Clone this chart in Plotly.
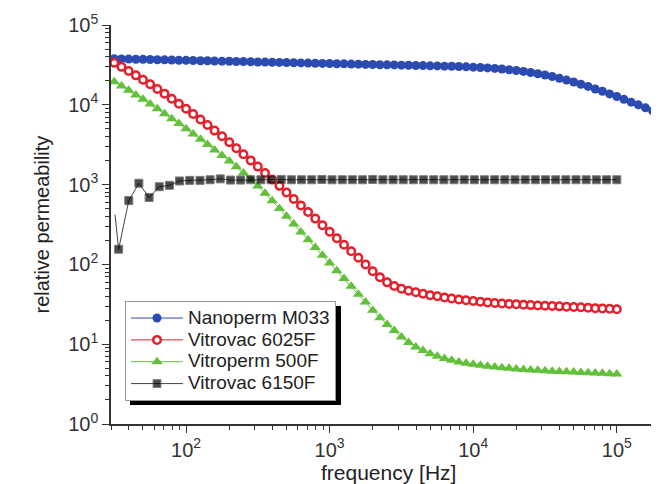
import plotly.graph_objects as go

# ---------------- data ----------------
freq = [31.6, 35.5, 39.8, 44.7, 50.1, 56.2, 63.1, 70.8, 79.4, 89.1,
        100, 112, 126, 141, 158, 178, 200, 224, 251, 282,
        316, 355, 398, 447, 501, 562, 631, 708, 794, 891,
        1000, 1122, 1259, 1413, 1585, 1778, 1995, 2239, 2512, 2818,
        3162, 3548, 3981, 4467, 5012, 5623, 6310, 7079, 7943, 8913,
        10000, 11220, 12590, 14130, 15850, 17780, 19950, 22390, 25120, 28180,
        31620, 35480, 39810, 44670, 50120, 56230, 63100, 70790, 79430, 89130,
        100000, 112200, 125900, 141300, 158500, 177800, 199500]

nanoperm = [37800, 37600, 37400, 37200, 37100, 36900, 36700, 36600, 36400, 36200,
            36100, 35900, 35700, 35600, 35400, 35200, 35100, 34900, 34800, 34600,
            34400, 34300, 34100, 34000, 33800, 33700, 33500, 33300, 33200, 33000,
            32900, 32700, 32600, 32400, 32300, 32100, 32000, 31800, 31700, 31600,
            31400, 31300, 31100, 31000, 30800, 30700, 30500, 30400,
            30200, 29900, 29600, 29300, 29000, 28600, 28100, 27500, 26900, 26200,
            25400, 24500, 23600, 22600, 21500, 20400, 19300, 18100, 17000, 15800,
            14800, 13700, 12700, 11700, 10800, 9980, 9160, 8390, 7670]

vitrovac_6025f = [33700, 29900, 26500, 23400, 20600, 18100, 15800, 13800, 11900, 10300,
                  8910, 7660, 6550, 5580, 4750, 4030, 3400, 2860, 2400, 2010,
                  1680, 1400, 1160, 964, 798, 661, 547, 453, 375, 310,
                  257, 213, 176, 146, 121, 100, 82.2, 69.2, 59.6, 53.7,
                  49.5, 46.8, 44.7, 42.9, 41.2, 39.8, 38.5, 37.3, 36.3, 35.5,
                  34.7, 34.0, 33.4, 32.9, 32.4, 32.0, 31.6, 31.3, 30.9, 30.6,
                  30.3, 30.1, 29.8, 29.5, 29.2, 29.0, 28.6, 28.3, 28.1, 27.8, 27.5]

vitroperm_500f = [19400, 17200, 15200, 13300, 11700, 10200, 8910, 7740, 6710, 5810,
                  5010, 4320, 3710, 3180, 2720, 2320, 1970, 1670, 1400, 1170,
                  959, 780, 627, 501, 400, 320, 255, 204, 163, 130,
                  104, 83.2, 66.4, 53.1, 42.4, 33.7, 26.7, 21.5, 17.6, 14.8,
                  12.3, 10.5, 9.23, 8.32, 7.59, 7.08, 6.64, 6.28, 6.00, 5.78,
                  5.60, 5.43, 5.30, 5.18, 5.07, 4.98, 4.90, 4.82, 4.75, 4.70,
                  4.65, 4.59, 4.55, 4.51, 4.47, 4.43, 4.39, 4.35, 4.31, 4.27, 4.23]

freq_6150f = [32.0, 33.9, 39.9, 46.9, 55.3, 65.1, 76.6, 90.1, 106, 125, 147,
              173, 204, 240, 282, 332, 391, 460, 542, 637, 750,
              883, 1039, 1224, 1440, 1695, 1995, 2349, 2765, 3254, 3831,
              4508, 5307, 6247, 7353, 8655, 10190, 11990, 14110, 16610, 19550,
              23010, 27090, 31890, 37530, 44180, 52000, 61210, 72050, 84810, 100000]
vitrovac_6150f = [420, 155, 630, 1040, 690, 940, 980, 1110, 1130, 1130, 1150,
                  1180, 1140, 1140, 1150, 1150, 1150, 1160, 1150, 1150, 1150,
                  1160, 1150, 1150, 1150, 1150, 1160, 1150, 1150, 1150, 1150,
                  1150, 1150, 1150, 1150, 1150, 1150, 1150, 1150, 1150, 1150,
                  1150, 1150, 1150, 1150, 1150, 1150, 1150, 1150, 1150, 1150]

series_names = ["Nanoperm M033", "Vitrovac 6025F", "Vitroperm 500F", "Vitrovac 6150F"]

x_major = [100, 1000, 10000, 100000]
x_major_text = ["10<sup>2</sup>", "10<sup>3</sup>", "10<sup>4</sup>", "10<sup>5</sup>"]
y_major = [1, 10, 100, 1000, 10000, 100000]
y_major_text = ["10<sup>0</sup>", "10<sup>1</sup>", "10<sup>2</sup>", "10<sup>3</sup>",
                "10<sup>4</sup>", "10<sup>5</sup>"]

# ---------------- figure ----------------
FONT = "Liberation Sans, Arial, Helvetica, sans-serif"
BLUE = "#2c4bb0"
RED = "#e3202b"
GREEN = "#62c03a"
BLACK = "#000000"


def legend_label(name):
    # larger text inside a legend whose row pitch is set by a smaller base font
    return '<span style="font-size:19px">' + name + '</span>'


fig = go.Figure()
fig.add_trace(go.Scatter(
    x=freq, y=nanoperm, name=legend_label(series_names[0]), mode="lines+markers",
    line=dict(color=BLUE, width=1),
    marker=dict(symbol="circle", size=9, color=BLUE)))
fig.add_trace(go.Scatter(
    x=freq[:len(vitrovac_6025f)], y=vitrovac_6025f, name=legend_label(series_names[1]),
    mode="lines+markers",
    line=dict(color=RED, width=1),
    marker=dict(symbol="circle", size=7.5, color="white", line=dict(color=RED, width=2.5))))
fig.add_trace(go.Scatter(
    x=freq[:len(vitroperm_500f)], y=vitroperm_500f, name=legend_label(series_names[2]),
    mode="lines+markers",
    line=dict(color=GREEN, width=1),
    marker=dict(symbol="triangle-up", size=10, color=GREEN)))
sizes_black = [0] + [8] * (len(freq_6150f) - 1)
fig.add_trace(go.Scatter(
    x=freq_6150f, y=vitrovac_6150f, name=legend_label(series_names[3]), mode="lines+markers",
    line=dict(color="#444444", width=1),
    marker=dict(symbol="square", size=sizes_black, color=BLACK)))

minor_x = [m * 10 ** e for e in range(1, 6) for m in range(2, 10) if 30 <= m * 10 ** e <= 200000]
minor_y = [m * 10 ** e for e in range(0, 5) for m in range(2, 10)]

axis_common = dict(
    type="log", showgrid=False, zeroline=False, showline=True,
    linecolor="#333333", linewidth=1.5, ticks="outside", ticklen=7, tickwidth=1.2,
    tickcolor="#333333", tickfont=dict(family=FONT, size=20, color="#333333"),
    tickmode="array", automargin=False, mirror=False)

fig.update_xaxes(**axis_common, range=[1.4771, 5.301], tickvals=x_major, ticktext=x_major_text,
                 minor=dict(tickmode="array", tickvals=minor_x, ticks="outside", ticklen=4,
                            tickcolor="#333333", tickwidth=1, showgrid=False))
fig.update_yaxes(**axis_common, range=[0, 5], tickvals=y_major, ticktext=y_major_text,
                 minor=dict(tickmode="array", tickvals=minor_y, ticks="outside", ticklen=4,
                            tickcolor="#333333", tickwidth=1, showgrid=False))

fig.update_layout(
    width=659, height=484,
    margin=dict(l=103, r=7, t=17, b=68),
    paper_bgcolor="white", plot_bgcolor="white",
    font=dict(family=FONT, size=18, color="#222222"),
    showlegend=True,
    legend=dict(x=0.0255, y=0.308, xanchor="left", yanchor="top",
                bgcolor="white", bordercolor="#9a9a9a", borderwidth=1,
                font=dict(family=FONT, size=14.5, color="#222222"),
                itemwidth=52, tracegroupgap=0),
    shapes=[dict(type="rect", xref="paper", yref="paper",
                 x0=0.0346, x1=0.4189, y0=0.0476, y1=0.2957,
                 fillcolor="black", line=dict(width=0), layer="above")],
    annotations=[
        dict(text="frequency [Hz]", xref="paper", yref="paper", x=0.5046, y=-0.1228,
             showarrow=False, xanchor="center", yanchor="middle",
             font=dict(family=FONT, size=21, color="#222222")),
        dict(text="relative permeability", xref="paper", yref="paper", x=-0.1275, y=0.5,
             showarrow=False, xanchor="center", yanchor="middle", textangle=-90,
             font=dict(family=FONT, size=20, color="#222222")),
    ],
)

fig.write_html("out.html")
